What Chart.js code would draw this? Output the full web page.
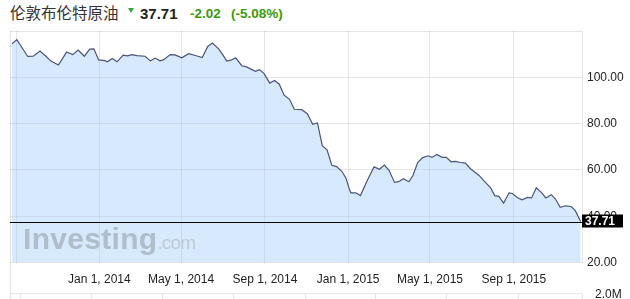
<!DOCTYPE html>
<html>
<head>
<meta charset="utf-8">
<script src="https://cdn.jsdelivr.net/npm/chart.js@4.4.0/dist/chart.umd.min.js"></script>
<style>
  html, body { margin: 0; padding: 0; background: #fff; }
  body { width: 630px; height: 299px; overflow: hidden; position: relative; font-family: 'Liberation Sans', Arial, sans-serif; }
  .t { position: absolute; white-space: nowrap; }
  #name { left: 10px; top: 4px; font: 15.5px/17px 'Noto Sans CJK SC', sans-serif; color: #333; }
  #arrow { left: 128px; top: 8px; width: 0; height: 0; border-left: 3.5px solid transparent; border-right: 3.5px solid transparent; border-top: 5px solid #3aa53a; }
  #last { left: 140px; top: 5px; font: bold 15px/17px 'Liberation Sans', Arial; color: #222; }
  #chg { left: 190px; top: 6px; font: bold 13.5px/16px 'Liberation Sans', Arial; color: #3a9a0c; }
  #pct { left: 231px; top: 6px; font: bold 13.5px/16px 'Liberation Sans', Arial; color: #3a9a0c; }
  #main { position: absolute; left: 0; top: 0; }
  #vol { position: absolute; left: 0; top: 282px; }
  #frame { position: absolute; left: 10px; top: 31px; width: 0; height: 268px; border-left: 1px solid #e2e2e2; }
  #mark { position: absolute; left: 23px; top: 222px; white-space: nowrap; pointer-events: none; }
  #mark b { font: bold 30px 'Liberation Sans', Arial; color: #b0bdcb; letter-spacing: 0.3px; }
  #mark span { font: 19px 'Liberation Sans', Arial; color: #bfcad6; letter-spacing: -0.8px; }
</style>
</head>
<body>
<div class="t" id="name">伦敦布伦特原油</div>
<div class="t" id="arrow"></div>
<div class="t" id="last">37.71</div>
<div class="t" id="chg">-2.02</div>
<div class="t" id="pct">(-5.08%)</div>
<div id="frame"></div>
<canvas id="main" width="630" height="290"></canvas>
<canvas id="vol" width="630" height="54"></canvas>
<div id="mark"><b>Investing</b><span>.com</span></div>
<script>
// Brent crude, weekly-ish points
const dates = [
  '2013-08-26', '2013-09-02', '2013-09-18', '2013-09-26', '2013-10-06', '2013-10-14', '2013-10-22', '2013-11-02',
  '2013-11-14', '2013-11-23', '2013-12-01', '2013-12-10', '2013-12-18', '2013-12-24', '2013-12-31', '2014-01-09',
  '2014-01-13', '2014-01-20', '2014-01-27', '2014-02-05', '2014-02-11', '2014-02-18', '2014-02-25', '2014-03-09',
  '2014-03-17', '2014-03-24', '2014-03-31', '2014-04-05', '2014-04-15', '2014-04-22', '2014-05-02', '2014-05-12',
  '2014-05-22', '2014-06-01', '2014-06-09', '2014-06-16', '2014-06-25', '2014-07-01', '2014-07-07', '2014-07-13',
  '2014-07-20', '2014-07-29', '2014-08-05', '2014-08-18', '2014-08-24', '2014-08-31', '2014-09-08', '2014-09-15',
  '2014-09-22', '2014-09-29', '2014-10-07', '2014-10-14', '2014-10-25', '2014-11-02', '2014-11-10', '2014-11-17',
  '2014-11-24', '2014-12-01', '2014-12-08', '2014-12-15', '2014-12-23', '2014-12-29', '2015-01-03', '2015-01-05',
  '2015-01-12', '2015-01-19', '2015-01-29', '2015-02-08', '2015-02-16', '2015-02-23', '2015-03-02', '2015-03-10',
  '2015-03-16', '2015-03-23', '2015-03-31', '2015-04-06', '2015-04-13', '2015-04-20', '2015-04-28', '2015-05-04',
  '2015-05-11', '2015-05-19', '2015-05-25', '2015-06-01', '2015-06-07', '2015-06-15', '2015-06-22', '2015-06-29',
  '2015-07-12', '2015-07-21', '2015-07-29', '2015-08-04', '2015-08-10', '2015-08-17', '2015-08-25', '2015-08-30',
  '2015-09-06', '2015-09-13', '2015-09-21', '2015-09-27', '2015-10-04', '2015-10-12', '2015-10-18', '2015-10-26',
  '2015-11-01', '2015-11-08', '2015-11-16', '2015-11-24', '2015-11-30', '2015-12-08'
];
const prices = [
  114.5, 116.3, 109.0, 109.1, 111.3, 109.3, 107.0, 105.3,
  110.9, 109.8, 111.8, 109.1, 112.2, 112.3, 107.5, 107.2,
  106.7, 108.1, 106.7, 109.6, 109.3, 109.8, 109.4, 109.1,
  107.1, 108.3, 107.1, 107.5, 109.8, 109.7, 108.4, 110.2,
  109.4, 108.5, 113.3, 114.8, 112.3, 109.8, 107.0, 107.4,
  108.4, 105.0, 104.5, 102.6, 103.3, 101.5, 97.5, 98.6,
  97.0, 92.3, 90.5, 86.2, 86.0, 84.3, 79.7, 80.3,
  70.5, 68.7, 62.0, 61.4, 59.3, 56.3, 51.5, 50.1,
  50.1, 48.9, 55.4, 61.3, 60.3, 62.1, 59.8, 54.6,
  54.9, 56.2, 54.9, 57.6, 63.2, 65.2, 66.1, 65.4,
  66.7, 65.4, 65.4, 63.5, 63.7, 63.2, 62.9, 60.6,
  57.6, 54.7, 52.2, 48.9, 48.6, 45.7, 50.1, 49.8,
  48.1, 47.1, 48.1, 47.9, 52.3, 50.1, 47.9, 49.3,
  47.4, 43.8, 44.5, 44.2, 42.5, 37.71
];
const xStart = '2013-08-23';
const xEnd = '2015-12-10';
const tickDates = ['2013-09-01', '2014-01-01', '2014-05-01', '2014-09-01', '2015-01-01', '2015-05-01', '2015-09-01'];
const tickLabels = ['', 'Jan 1, 2014', 'May 1, 2014', 'Sep 1, 2014', 'Jan 1, 2015', 'May 1, 2015', 'Sep 1, 2015'];
const priceTicks = [20, 40, 60, 80, 100, 120];
const volTicks = [2000000];
const volLabels = ['2.0M'];

const lastPrice = prices[prices.length - 1];
const tickTimes = tickDates.map((d) => Date.parse(d));
const gridColor = 'rgba(0,0,0,0.1)';

Chart.defaults.font.family = "'Liberation Sans', Arial, sans-serif";
Chart.defaults.font.size = 12;
Chart.defaults.color = '#222';

// black line at the last price with its label box on the axis
const lastPriceLine = {
  id: 'lastPriceLine',
  afterDatasetsDraw(chart) {
    const { ctx, chartArea, scales } = chart;
    const y = Math.round(scales.y.getPixelForValue(lastPrice)) + 0.5;
    ctx.save();
    ctx.strokeStyle = '#000';
    ctx.lineWidth = 1;
    ctx.beginPath();
    ctx.moveTo(chartArea.left, y);
    ctx.lineTo(chartArea.right, y);
    ctx.stroke();
    ctx.restore();
  },
  afterDraw(chart) {
    const { ctx, chartArea, scales } = chart;
    const y = scales.y.getPixelForValue(lastPrice);
    ctx.save();
    ctx.fillStyle = '#000';
    ctx.fillRect(chartArea.right, y - 7, 41, 13);
    ctx.fillStyle = '#fff';
    ctx.font = "bold 12px 'Liberation Sans', Arial";
    ctx.textBaseline = 'middle';
    ctx.fillText(lastPrice.toFixed(2), chartArea.right + 3, y);
    ctx.restore();
  }
};

new Chart(document.getElementById('main'), {
  type: 'line',
  data: {
    datasets: [{
      data: dates.map((d, i) => ({ x: Date.parse(d), y: prices[i] })),
      borderColor: '#4b5379',
      borderWidth: 1.2,
      backgroundColor: 'rgba(160,203,250,0.42)',
      fill: 'start',
      pointRadius: 0,
      tension: 0
    }]
  },
  options: {
    responsive: false,
    animation: false,
    layout: { padding: { top: 31, left: 10, right: 0, bottom: 0 } },
    plugins: { legend: { display: false }, tooltip: { enabled: false } },
    scales: {
      x: {
        type: 'linear',
        min: Date.parse(xStart),
        max: Date.parse(xEnd),
        afterBuildTicks: (axis) => { axis.ticks = tickTimes.map((v) => ({ value: v })); },
        afterFit: (axis) => { axis.height = 27.5; },
        grid: { color: gridColor, drawTicks: false },
        border: { display: false },
        ticks: {
          autoSkip: false,
          maxRotation: 0,
          padding: 10,
          callback: (v) => tickLabels[tickTimes.indexOf(v)]
        }
      },
      y: {
        position: 'right',
        min: 20,
        max: 120,
        afterBuildTicks: (axis) => { axis.ticks = priceTicks.map((v) => ({ value: v })); },
        afterFit: (axis) => { axis.width = 48; },
        grid: { color: gridColor, drawTicks: false },
        border: { color: gridColor },
        ticks: {
          padding: 5,
          callback: (v) => (v === 120 ? '' : v.toFixed(2))
        }
      }
    }
  },
  plugins: [lastPriceLine]
});

// volume panel under the dates, only its top is in view
const panelTop = {
  id: 'panelTop',
  beforeDatasetsDraw(chart) {
    const { ctx, chartArea } = chart;
    ctx.save();
    ctx.strokeStyle = gridColor;
    ctx.beginPath();
    ctx.moveTo(chartArea.left, chartArea.top - 0.5);
    ctx.lineTo(chartArea.right, chartArea.top - 0.5);
    ctx.stroke();
    ctx.restore();
  }
};

new Chart(document.getElementById('vol'), {
  type: 'bar',
  data: { datasets: [{ data: [] }] },
  options: {
    responsive: false,
    animation: false,
    layout: { padding: { top: 10, left: 10, right: 0, bottom: 0 } },
    plugins: { legend: { display: false }, tooltip: { enabled: false } },
    scales: {
      x: {
        type: 'linear',
        min: Date.parse(xStart),
        max: Date.parse(xEnd),
        afterBuildTicks: (axis) => { axis.ticks = tickTimes.map((v) => ({ value: v })); },
        afterFit: (axis) => { axis.height = 0; },
        grid: { color: gridColor, drawTicks: false },
        border: { display: false },
        ticks: { display: false }
      },
      y: {
        position: 'right',
        min: 0,
        max: 2000000,
        afterBuildTicks: (axis) => { axis.ticks = volTicks.map((v) => ({ value: v })); },
        afterFit: (axis) => { axis.width = 48; },
        grid: { display: false },
        border: { color: gridColor },
        ticks: {
          padding: 5,
          callback: (v) => volLabels[volTicks.indexOf(v)]
        }
      }
    }
  },
  plugins: [panelTop]
});
</script>
</body>
</html>
